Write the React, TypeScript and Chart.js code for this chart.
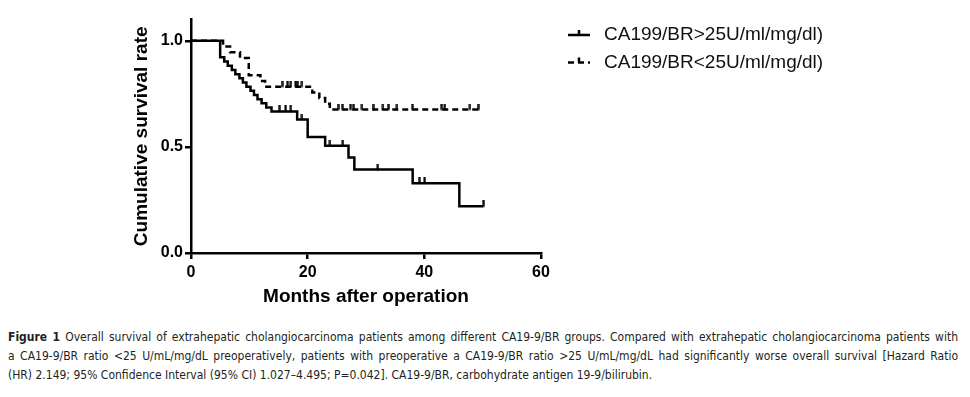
import React, { useEffect, useRef } from "react";
import { Chart, registerables } from "chart.js";

Chart.register(...registerables);

// ---- data ----
const xTicks = [0, 20, 40, 60];
const yTicks = [0, 0.5, 1.0];
const xMax = 60;
const yMax = 1.1;

const xTitle = "Months after operation";
const yTitle = "Cumulative survival rate";

const highLabel = "CA199/BR>25U/ml/mg/dl)";
const highTimes = [0, 5, 5.7, 6.3, 7.0, 7.6, 8.3, 8.9, 9.5, 10.2, 10.8, 11.4, 12.1, 12.9, 13.8, 18.2, 20, 23, 27, 28, 38, 46];
const highSurv = [1.0, 0.922, 0.902, 0.882, 0.863, 0.843, 0.824, 0.804, 0.784, 0.765, 0.745, 0.725, 0.706, 0.686, 0.667, 0.629, 0.547, 0.505, 0.45, 0.393, 0.329, 0.22];
const highEnd = 50.1;
const highCensor = [15.1, 16.2, 17.1, 19.0, 23.8, 26.0, 32.0, 39.1, 40.0, 50.1];

const lowLabel = "CA199/BR<25U/ml/mg/dl)";
const lowTimes = [0, 5.5, 6.7, 8.4, 9.9, 11.9, 12.7, 20.8, 22.0, 23.0, 23.8];
const lowSurv = [1.0, 0.973, 0.946, 0.919, 0.838, 0.811, 0.784, 0.757, 0.73, 0.703, 0.676];
const lowEnd = 49.5;
const lowCensor = [15.6, 16.5, 17.1, 17.9, 18.2, 19.0, 25.2, 25.9, 27.3, 27.8, 29.3, 31.2, 32.9, 33.8, 35.3, 37.9, 42.9, 43.5, 47.8, 49.2];

const captionLines = [
  "Overall survival of extrahepatic cholangiocarcinoma patients among different CA19-9/BR groups. Compared with extrahepatic cholangiocarcinoma patients with",
  "a CA19-9/BR ratio <25 U/mL/mg/dL preoperatively, patients with preoperative a CA19-9/BR ratio >25 U/mL/mg/dL had significantly worse overall survival [Hazard Ratio",
  "(HR) 2.149; 95% Confidence Interval (95% CI) 1.027–4.495; P=0.042]. CA19-9/BR, carbohydrate antigen 19-9/bilirubin.",
];

// ---- helpers ----
function stepPoints(times: number[], surv: number[], end: number) {
  const pts: { x: number; y: number }[] = [{ x: times[0], y: surv[0] }];
  for (let i = 1; i < times.length; i++) {
    pts.push({ x: times[i], y: surv[i - 1] });
    pts.push({ x: times[i], y: surv[i] });
  }
  pts.push({ x: end, y: surv[surv.length - 1] });
  return pts;
}

function survAt(times: number[], surv: number[], t: number) {
  let s = surv[0];
  for (let i = 0; i < times.length; i++) if (times[i] <= t) s = surv[i];
  return s;
}

function makeTick() {
  const c = document.createElement("canvas");
  c.width = 3;
  c.height = 12;
  const g = c.getContext("2d")!;
  g.fillStyle = "#000";
  g.fillRect(0.5, 0, 2.2, 6.5);
  return c;
}

const FONT = "'Liberation Sans', Arial, Helvetica, sans-serif";

export default function App() {
  const ref = useRef<HTMLCanvasElement | null>(null);

  useEffect(() => {
    if (!ref.current) return;
    const tick = makeTick();

    const legendPlugin = {
      id: "kmLegend",
      afterDraw(chart: any) {
        const ctx = chart.ctx as CanvasRenderingContext2D;
        const items = [0, 1];
        const ys = [27, 54.5];
        ctx.save();
        items.forEach((di, k) => {
          const ds = chart.data.datasets[di];
          const y = ys[k];
          ctx.strokeStyle = "#000";
          ctx.lineWidth = 2.5;
          ctx.setLineDash(ds.borderDash || []);
          ctx.beginPath();
          ctx.moveTo(560, y);
          ctx.lineTo(582, y);
          ctx.stroke();
          ctx.setLineDash([]);
          ctx.beginPath();
          ctx.moveTo(571, y);
          ctx.lineTo(571, y - 5);
          ctx.stroke();
          ctx.fillStyle = "#111";
          ctx.font = `19px ${FONT}`;
          ctx.textBaseline = "middle";
          ctx.textAlign = "left";
          ctx.fillText(ds.label, 596, y);
        });
        ctx.restore();
      },
    };

    const chart = new Chart(ref.current, {
      type: "scatter",
      data: {
        datasets: [
          {
            label: highLabel,
            data: stepPoints(highTimes, highSurv, highEnd),
            showLine: true,
            borderColor: "#000",
            borderWidth: 2.5,
            pointRadius: 0,
            fill: false,
            tension: 0,
            borderJoinStyle: "miter",
          },
          {
            label: lowLabel,
            data: stepPoints(lowTimes, lowSurv, lowEnd),
            showLine: true,
            borderColor: "#000",
            borderWidth: 2.5,
            borderDash: [6, 4],
            pointRadius: 0,
            fill: false,
            tension: 0,
            borderJoinStyle: "miter",
          },
          {
            label: "high censored",
            data: highCensor.map((t) => ({ x: t, y: survAt(highTimes, highSurv, t) })),
            showLine: false,
            pointStyle: tick as any,
            pointRadius: 3,
          },
          {
            label: "low censored",
            data: lowCensor.map((t) => ({ x: t, y: survAt(lowTimes, lowSurv, t) })),
            showLine: false,
            pointStyle: tick as any,
            pointRadius: 3,
          },
        ],
      },
      options: {
        animation: false,
        responsive: true,
        maintainAspectRatio: false,
        events: [],
        layout: { padding: { left: 0, top: 9, right: 421, bottom: 0 } },
        plugins: { legend: { display: false }, tooltip: { enabled: false }, title: { display: false } },
        scales: {
          x: {
            type: "linear",
            min: 0,
            max: xMax,
            afterBuildTicks: (axis: any) => {
              axis.ticks = xTicks.map((v) => ({ value: v }));
            },
            afterFit: (s: any) => {
              s.height = 65;
            },
            border: { display: true, color: "#000", width: 2.5 },
            grid: { display: true, drawOnChartArea: false, drawTicks: true, tickLength: 6, tickWidth: 2.5, tickColor: "#000", color: "#000", lineWidth: 2.5 },
            ticks: { color: "#000", font: { family: FONT, size: 16, weight: "bold" }, padding: 4, maxRotation: 0 },
            title: { display: true, text: xTitle, color: "#000", font: { family: FONT, size: 19, weight: "bold" }, padding: { top: 0, bottom: 10 } },
          },
          y: {
            type: "linear",
            min: 0,
            max: yMax,
            afterBuildTicks: (axis: any) => {
              axis.ticks = yTicks.map((v) => ({ value: v }));
            },
            afterFit: (s: any) => {
              s.width = 183;
            },
            border: { display: true, color: "#000", width: 2.5 },
            grid: { display: true, drawOnChartArea: false, drawTicks: true, tickLength: 6, tickWidth: 2.5, tickColor: "#000", color: "#000", lineWidth: 2.5 },
            ticks: {
              color: "#000",
              font: { family: FONT, size: 16, weight: "bold" },
              padding: 2,
              callback: (v: any) => Number(v).toFixed(1),
            },
            title: { display: true, text: yTitle, color: "#000", font: { family: FONT, size: 19, weight: "bold" }, padding: { top: 122, bottom: 0 } },
          },
        },
      },
      plugins: [legendPlugin],
    } as any);

    return () => chart.destroy();
  }, []);

  return (
    <div style={{ position: "relative", width: 954 }}>
      <div style={{ position: "relative", width: 954, height: 310 }}>
        <canvas ref={ref} />
      </div>
      <div
        style={{
          marginTop: 10,
          width: 950,
          fontFamily: "'Liberation Sans Narrow', 'DejaVu Sans Condensed', 'Open Sans', sans-serif",
          fontSize: 12,
          color: "#231f20",
        }}
      >
        {captionLines.map((line, i) => (
          <div
            key={i}
            style={{
              height: 19,
              lineHeight: "19px",
              whiteSpace: "nowrap",
              textAlign: i < 2 ? "justify" : "left",
              textAlignLast: i < 2 ? "justify" : "left",
            } as any}
          >
            {i === 0 ? (
              <>
                <b>Figure 1</b> {line}
              </>
            ) : (
              line
            )}
          </div>
        ))}
      </div>
    </div>
  );
}
